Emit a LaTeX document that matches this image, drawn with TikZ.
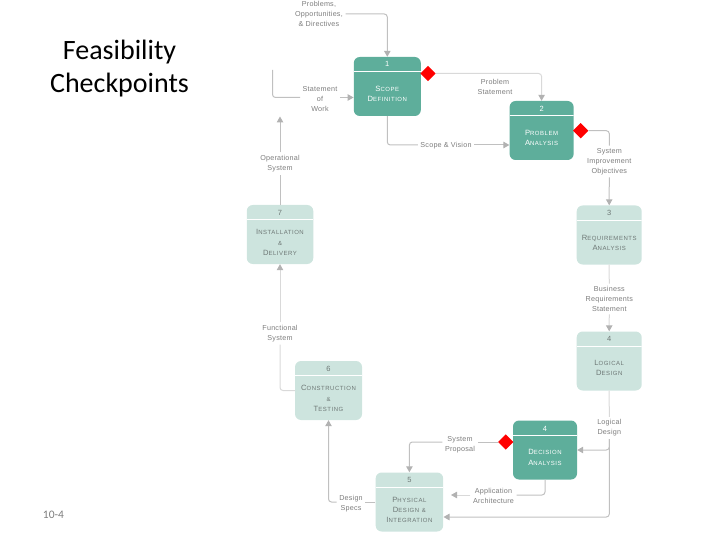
\documentclass[tikz,border=0pt]{standalone}
\usepackage{fontspec}
\usepackage{xcolor}
\setmainfont{Liberation Sans}
\newfontfamily\titlefont{Carlito}
\newfontfamily\phasefont[LetterSpace=9]{Liberation Sans}
\newfontfamily\labelfont[LetterSpace=3]{Liberation Sans}
\definecolor{darkteal}{RGB}{94,174,155}
\definecolor{lightteal}{RGB}{205,228,222}
\definecolor{flowgray}{RGB}{192,192,192}
\definecolor{tipgray}{RGB}{178,178,178}
\definecolor{mytext}{RGB}{125,125,125}
\definecolor{phasetext}{RGB}{110,120,118}
\usetikzlibrary{arrows.meta}
\usetikzlibrary{calc}
\usetikzlibrary{shapes.geometric}
\newcommand{\cp}[2]{{\fontsize{7.6}{10.3}\selectfont #1}{\fontsize{6}{10.3}\selectfont #2}}
\newcommand{\amp}{{\fontsize{6}{10.3}\selectfont\&}}
\newcommand{\widthphase}{65pt}
\tikzset{
    phase/.style={rectangle, rounded corners=6pt, minimum width=\widthphase, minimum height=59pt, inner sep=0pt,
        path picture={
            \draw[white, line width=0.7pt]
                ([yshift=-14.5pt]path picture bounding box.north west)--([yshift=-14.5pt]path picture bounding box.north east);
        }
    },
    active/.style={phase, fill=darkteal},
    idle/.style={phase, fill=lightteal},
    activetext/.style={white, align=center, font=\fontsize{7}{10.3}\selectfont\phasefont, inner sep=0pt},
    idletext/.style={phasetext, align=center, font=\fontsize{7}{10.3}\selectfont\phasefont, inner sep=0pt},
    flowlabel/.style={mytext, align=center, inner sep=2.5pt, font=\fontsize{7.2}{10}\selectfont\labelfont},
    flow/.style={flowgray, line width=1pt, rounded corners=3pt},
    flowtip/.style={flow, -{Triangle[width=6.5pt, length=6pt, color=tipgray]}},
    fadedflow/.style={flow, flowgray!60},
    fadedtip/.style={flowtip, flowgray!60},
    check/.style={diamond, aspect=1, fill=red, inner sep=0pt, minimum size=15.5pt},
}
\begin{document}
\begin{tikzpicture}[x=1pt, y=-1pt]
    \useasboundingbox (0,0) rectangle (720,540);

    % slide text
    \node[align=center, font=\fontsize{28}{33}\selectfont\titlefont] (title) at (119.5,69) {Feasibility\\Checkpoints};
    \node[font=\fontsize{11.5}{13}\selectfont\titlefont, mytext] (pagenum) at (53.5,515) {10-4};

    % phases
    \node[active, minimum width=67pt] (scope) at (387.3,86.5) {};
    \node[activetext] (scope-num) at (387.3,64) {\fontsize{7.5}{8}\selectfont 1};
    \node[activetext] (scope-name) at (387.3,94) {\cp{S}{COPE}\\\cp{D}{EFINITION}};

    \node[active, minimum width=64pt] (problem) at (541.6,130.5) {};
    \node[activetext] (problem-num) at (541.6,109) {\fontsize{7.5}{8}\selectfont 2};
    \node[activetext] (problem-name) at (541.6,138) {\cp{P}{ROBLEM}\\\cp{A}{NALYSIS}};

    \node[idle] (requirements) at (609.2,235) {};
    \node[idletext] (requirements-num) at (609.2,213) {\fontsize{7.5}{8}\selectfont 3};
    \node[idletext] (requirements-name) at (609.2,243) {\cp{R}{EQUIREMENTS}\\\cp{A}{NALYSIS}};

    \node[idle] (logical) at (609.2,361) {};
    \node[idletext] (logical-num) at (609.2,339) {\fontsize{7.5}{8}\selectfont 4};
    \node[idletext] (logical-name) at (609.2,368) {\cp{L}{OGICAL}\\\cp{D}{ESIGN}};

    \node[active, minimum width=64pt] (decision) at (545,450) {};
    \node[activetext] (decision-num) at (545,428.5) {\fontsize{7.5}{8}\selectfont 4};
    \node[activetext] (decision-name) at (545,457.5) {\cp{D}{ECISION}\\\cp{A}{NALYSIS}};

    \node[idle, minimum width=67.5pt] (physical) at (409.4,502) {};
    \node[idletext] (physical-num) at (409.4,480) {\fontsize{7.5}{8}\selectfont 5};
    \node[idletext] (physical-name) at (409.4,510) {\cp{P}{HYSICAL}\\\cp{D}{ESIGN} \amp\\\cp{I}{NTEGRATION}};

    \node[idle, minimum width=67pt] (construction) at (328.5,390.5) {};
    \node[idletext] (construction-num) at (328.5,368.5) {\fontsize{7.5}{8}\selectfont 6};
    \node[idletext] (construction-name) at (328.5,398.5) {\cp{C}{ONSTRUCTION}\\\amp\\\cp{T}{ESTING}};

    \node[idle, minimum width=66.5pt] (installation) at (280,234.5) {};
    \node[idletext] (installation-num) at (280,213) {\fontsize{7.5}{8}\selectfont 7};
    \node[idletext] (installation-name) at (280,242.5) {\cp{I}{NSTALLATION}\\\amp\\\cp{D}{ELIVERY}};

    % checkpoints
    \node[check] (check-scope) at (428,73.5) {};
    \node[check] (check-problem) at (580.7,130.7) {};
    \node[check] (check-decision) at (505.7,442) {};

    % labels
    \node[flowlabel] (pod) at (319,14) {Problems,\\Opportunities,\\\& Directives};
    \node[flowlabel] (sow) at (320,99) {Statement\\of\\Work};
    \node[flowlabel] (opsys) at (280,163.5) {Operational\\System};
    \node[flowlabel] (probstate) at (495,86.5) {Problem\\Statement};
    \node[flowlabel] (scopevis) at (446,146) {Scope \& Vision};
    \node[flowlabel] (sysobj) at (609.3,161.5) {System\\Improvement\\Objectives};
    \node[flowlabel] (brs) at (609.3,299) {Business\\Requirements\\Statement};
    \node[flowlabel] (logdes) at (609.3,428) {Logical\\Design};
    \node[flowlabel] (sysprop) at (460,445) {System\\Proposal};
    \node[flowlabel] (apparch) at (493.5,495.5) {Application\\Architecture};
    \node[flowlabel] (desspec) at (351,503.5) {Design\\Specs};
    \node[flowlabel] (funcsys) at (280,333.5) {Functional\\System};

    % free ends
    \coordinate (sow-top) at (272.5,70);
    \coordinate (sow-line) at (320,97.5);
    \coordinate (vision-line) at (446,145);
    \coordinate (specs-line) at (351,502);
    \coordinate (arch-line) at (493.5,495);
    \coordinate (opsys-end) at (280,116.5);
    \coordinate (logdes-end) at (443.5,517);
    \coordinate (apparch-end) at (451,495);

    \draw[flowtip] (pod) -| (scope.north);
    \draw[flow] (sow-top) |- (sow.west |- sow-line);
    \draw[flowtip] (sow.east |- sow-line) -- (sow-line -| scope.west);
    \draw[flow] (installation.north) -- (opsys);
    \draw[flowtip] (opsys) -- (opsys-end);

    \draw[fadedtip] (check-scope) -| (problem.north);
    \draw[flow] (scope.south) |- (scopevis.west |- vision-line);
    \draw[flowtip] (scopevis.east |- vision-line) -- (vision-line -| problem.west);

    \draw[flow] (check-problem) -| (sysobj);
    \draw[flowtip] (sysobj) -- (requirements.north);
    \draw[fadedflow] (requirements.south) -- (brs);
    \draw[fadedtip] (brs) -- (logical.north);
    \draw[fadedflow] (logical.south) -- (logdes);
    \draw[flowtip] (logdes) |- (logdes-end);
    \draw[flowtip] (logdes) |- (decision.east);

    \draw[flow] (check-decision) -- (check-decision -| sysprop.east);
    \draw[flowtip] (sysprop.west |- check-decision) -| (physical.north);
    \draw[flow] (decision.south) |- (apparch.east |- arch-line);
    \draw[fadedtip] (apparch.west |- arch-line) -- (apparch-end);
    \draw[flow] (physical.west) -- (desspec.east |- specs-line);
    \draw[flowtip] (desspec.west |- specs-line) -| (construction.south);
    \draw[fadedflow] (construction.west) -| (funcsys);
    \draw[fadedtip] (funcsys) -- (installation.south);
\end{tikzpicture}
\end{document}
